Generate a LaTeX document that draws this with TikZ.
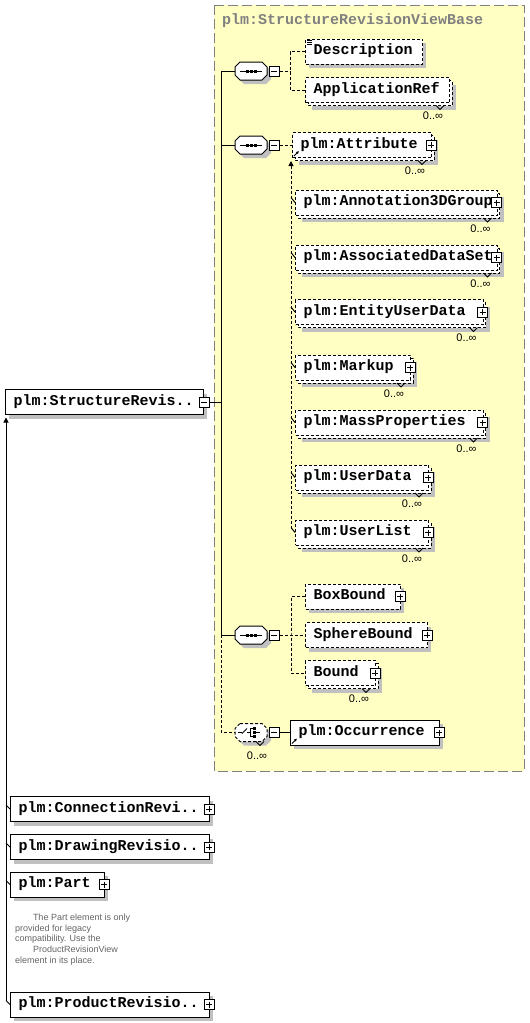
\documentclass[tikz,border=0pt]{standalone}
\usepackage{fontspec}
\setmainfont{Liberation Sans}
\setmonofont{Liberation Mono}
\usetikzlibrary{arrows.meta}
\definecolor{ybg}{RGB}{255,255,196}
\definecolor{ybd}{RGB}{128,128,128}
\definecolor{shadowc}{RGB}{192,192,192}
\definecolor{titlec}{RGB}{128,128,128}
\definecolor{annoc}{RGB}{100,100,100}
\newcommand\elfont{\fontsize{15}{15}\selectfont\ttfamily\bfseries}
\tikzset{
  elem/.style={draw, fill=white, minimum height=25pt, inner xsep=8pt, inner ysep=0pt,
    text height=10pt, text depth=3.5pt, font=\elfont, align=left},
  opt/.style={dash pattern=on 3pt off 2pt},
  req/.style={solid},
  pm/.style={draw, fill=white, minimum size=10pt, inner sep=0pt, solid, line width=1pt},
  plusb/.style={pm, path picture={\draw[line width=1pt]
      ([xshift=2pt]path picture bounding box.west) -- ([xshift=-2pt]path picture bounding box.east)
      ([yshift=-2pt]path picture bounding box.north) -- ([yshift=2pt]path picture bounding box.south);}},
  minusb/.style={pm, path picture={\draw[line width=1pt]
      ([xshift=2pt]path picture bounding box.west) -- ([xshift=-2pt]path picture bounding box.east);}},
  card/.style={font=\fontsize{11}{12}\selectfont, inner sep=0pt},
  conn/.style={line width=1pt, solid},
  dconn/.style={line width=1pt, dash pattern=on 3pt off 2pt},
  upTip/.style={-{Triangle[length=5pt,width=5pt]}},
  refTip/.style={-{Latex[length=3pt,width=3pt]}},
}
% #1 name, #2 x left, #3 y centre, #4 x right, #5 text, #6 border style, #7 multi (0/1), #8 marker p/m/n
\newcommand\elm[8]{%
  \pgfmathsetmacro\eltw{#4-#2-16}%
  \ifnum#7=1
    \fill[shadowc] (#2+7,#3-5.5) rectangle (#4+7,#3+19.5);
    \draw[fill=white,#6] (#2+3,#3-9.5) rectangle (#4+3,#3+15.5);
  \else
    \fill[shadowc] (#2+4,#3-8.5) rectangle (#4+4,#3+16.5);
  \fi
  \node[elem,#6,text width=\eltw pt,anchor=west] (#1) at (#2,#3) {\mbox{#5}};
  \ifnum#7=1
    \draw[conn] (#4-13,#3+15.5) -- (#4-9,#3+19.5) -- (#4-5,#3+15.5);
    \node[card] (#1c) at (#4-16,#3+26) {0..∞};
  \fi
  \if#8p\node[plusb] (#1x) at ([xshift=-1pt]#1.east) {};\fi
  \if#8m\node[minusb] (#1x) at (#1.east) {};\fi
}
% compositor: #1 name, #2 x centre, #3 y centre, #4 border style
\newcommand\comp[4]{%
  \coordinate (#1) at (#2,#3);
  \coordinate (#1w) at (#2-16,#3);
  \fill[shadowc] (#2-7,#3-5) -- (#2+15,#3-5) -- (#2+20,#3) -- (#2+20,#3+8) -- (#2+15,#3+13)
     -- (#2-7,#3+13) -- (#2-12,#3+8) -- (#2-12,#3) -- cycle;
  \draw[fill=white,#4] (#2-11,#3-9) -- (#2+11,#3-9) -- (#2+16,#3-4) -- (#2+16,#3+4) -- (#2+11,#3+9)
     -- (#2-11,#3+9) -- (#2-16,#3+4) -- (#2-16,#3-4) -- cycle;
  \node[minusb] (#1m) at (#2+23,#3) {};
}
\newcommand\seqsym[2]{%
  \draw[conn] (#1-11,#2) -- (#1+11,#2);
  \fill (#1-5.5,#2-1.5) rectangle ++(3,3);
  \fill (#1-1.5,#2-1.5) rectangle ++(3,3);
  \fill (#1+2.5,#2-1.5) rectangle ++(3,3);
}
\newcommand\chosym[2]{%
  \draw[conn] (#1-13,#2) -- (#1-9,#2);
  \draw[conn] (#1-9,#2+1) -- (#1-4,#2-4);
  \draw[conn] (#1-4,#2) -- (#1-1,#2);
  \draw[conn] (#1+2,#2-4) -- (#1-1,#2-4) -- (#1-1,#2+4) -- (#1+2,#2+4);
  \fill (#1+2,#2-5.5) rectangle ++(3,3);
  \fill (#1+2,#2-1.5) rectangle ++(3,3);
  \fill (#1+2,#2+2.5) rectangle ++(3,3);
  \draw[conn] (#1+5,#2) -- (#1+9,#2);
}
\begin{document}
\begin{tikzpicture}[x=1pt,y=-1pt,line width=1pt]
\useasboundingbox (0,0) rectangle (530,1023);
% group background
\draw[fill=ybg, draw=ybd, dash pattern=on 10pt off 4pt] (214,5) rectangle (524,771);
\node[font=\elfont, text=titlec, anchor=west, inner sep=0pt] (title) at (221.5,21) {plm:StructureRevisionViewBase};

% compositors
\comp{s1}{251}{71}{solid}\seqsym{251}{71}
\comp{s2}{251}{145}{solid}\seqsym{251}{145}
\comp{s3}{251}{635}{solid}\seqsym{251}{635}
\comp{s4}{251}{732.5}{opt}\chosym{251}{732.5}
\draw[conn] (256,741.5) -- (260,745.5) -- (264,741.5);
\node[card] (s4c) at (257,756) {0..∞};

% sequence 1
\elm{desc}{305}{51.5}{422}{Description}{opt}{0}{n}
\draw[line width=0.8pt] (307,40.5) -- ++(5,0) (307,42.5) -- ++(5,0) (307,44.5) -- ++(5,0);
\elm{appref}{305}{90}{449}{ApplicationRef}{opt}{1}{n}

% sequence 2
\elm{attr}{292}{145}{431}{plm:Attribute}{opt}{1}{p}
\elm{a3d}{295}{202.5}{496.5}{plm:Annotation3DGroup}{opt}{1}{p}
\elm{ads}{295}{257.5}{496.5}{plm:AssociatedDataSet}{opt}{1}{p}
\elm{eud}{295}{312}{482.5}{plm:EntityUserData}{opt}{1}{p}
\elm{mku}{295}{367.5}{410}{plm:Markup}{opt}{1}{p}
\elm{mass}{295}{422.5}{482.5}{plm:MassProperties}{opt}{1}{p}
\elm{ud}{295}{477.5}{428}{plm:UserData}{opt}{1}{p}
\elm{ul}{295}{532.5}{428}{plm:UserList}{opt}{1}{p}
\draw[refTip] ([shift={(2,-2)}]attr.south west) -- ++(5,-5);

% sequence 3
\elm{boxb}{305}{596.5}{400}{BoxBound}{opt}{0}{p}
\elm{sphb}{305}{635}{427}{SphereBound}{opt}{0}{p}
\elm{bnd}{305}{673}{375}{Bound}{opt}{1}{p}

% choice
\elm{occ}{290}{732.5}{439}{plm:Occurrence}{req}{0}{p}
\draw[refTip] ([shift={(2,-2)}]occ.south west) -- ++(5,-5);

% left side
\elm{root}{5}{402}{203}{plm:StructureRevis..}{req}{0}{m}
\elm{conn}{10}{809}{209}{plm:ConnectionRevi..}{req}{0}{p}
\elm{drw}{10}{847}{209}{plm:DrawingRevisio..}{req}{0}{p}
\elm{part}{10}{884.5}{104}{plm:Part}{req}{0}{p}
\elm{prod}{10}{1004.5}{209}{plm:ProductRevisio..}{req}{0}{p}
\node[anchor=north west, inner sep=0pt, align=left, text=annoc,
      font=\fontsize{9}{10.7}\selectfont] (note) at (14.5,913.5)
  {\hspace*{18pt}The Part element is only\\provided for legacy\\compatibility. Use the\\\hspace*{18pt}ProductRevisionView\\element in its place.};

% connectors: trunk
\coordinate (jt) at (221,402);
\draw[conn] (rootx.east) -- (jt);
\draw[conn] (s1w) -- ++(-14,0) coordinate (tk1) -- (tk1 |- s3w) -- (s3w);
\draw[conn] (tk1 |- s2w) -- (s2w);
\draw[dconn] (tk1 |- s3w) -- (tk1 |- s4w) -- (s4w);
% sequence 1
\coordinate (b1) at (290,71);
\draw[dconn] (s1m.east) -- (b1);
\draw[dconn] (desc.west) -| (b1) |- (appref.west);
% sequence 2
\draw[dconn] (s2m.east) -- (attr.west);
\coordinate (v2t) at (291,161);
\coordinate (v2b) at (291,529);
\draw[dconn,upTip] (v2b) -- (v2t);
\foreach \n in {a3d,ads,eud,mku,mass,ud,ul}
  \draw[conn] ([yshift=5pt]v2b |- \n.west) -- (\n.west);
% sequence 3
\coordinate (b3) at (291,635);
\draw[dconn] (s3m.east) -- (sphb.west);
\draw[dconn] (boxb.west) -| (b3) |- (bnd.west);
% choice
\draw[conn] (s4m.east) -- (occ.west);
% left trunk
\coordinate (lt) at (6,417.5);
\coordinate (lb) at (6,1000.5);
\draw[conn,upTip] (lb) -- (lt);
\foreach \n in {conn,drw,part,prod}
  \draw[conn] ([yshift=4pt]lt |- \n.west) -- (\n.west);
\end{tikzpicture}
\end{document}
